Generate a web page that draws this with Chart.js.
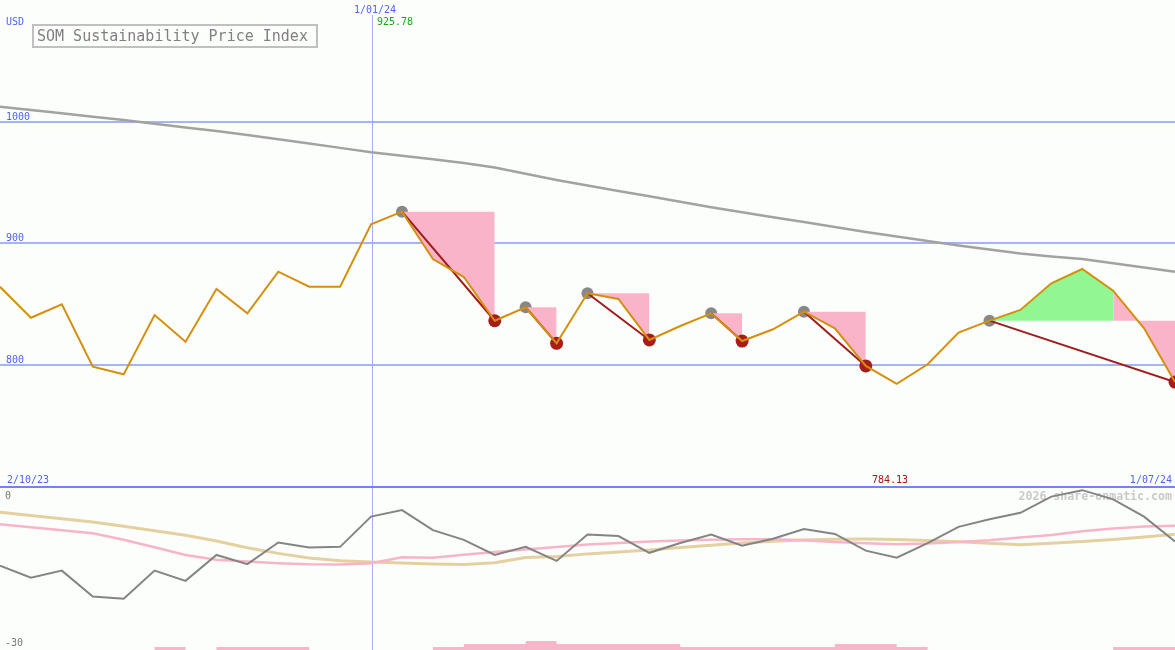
<!DOCTYPE html>
<html>
<head>
<meta charset="utf-8">
<script src="https://cdn.jsdelivr.net/npm/chart.js@4.4.1/dist/chart.umd.min.js"></script>
<style>
html,body{margin:0;padding:0;background:#fcfefc;}
#wrap{position:relative;width:1175px;height:650px;overflow:hidden;background:#fcfefc;}
#top{position:absolute;left:0;top:0;}
#bot{position:absolute;left:0;top:488px;}
#title{position:absolute;left:32px;top:24px;width:286px;height:24px;box-sizing:border-box;border:2px solid #c0c0c0;
  font:15px "DejaVu Sans Mono",monospace;color:#808080;line-height:20px;padding-left:3px;white-space:nowrap;}
</style>
</head>
<body>
<div id="wrap">
  <canvas id="top" width="1175" height="488"></canvas>
  <canvas id="bot" width="1175" height="162"></canvas>
  <div id="title">SOM Sustainability Price Index</div>
</div>
<script>
// ---------- data ----------
const categories = ['9/10/23','16/10/23','23/10/23','30/10/23','6/11/23','13/11/23','20/11/23','27/11/23',
  '4/12/23','11/12/23','18/12/23','25/12/23','1/01/24','8/01/24','15/01/24','22/01/24','29/01/24',
  '5/02/24','12/02/24','19/02/24','26/02/24','4/03/24','11/03/24','18/03/24','25/03/24',
  '1/04/24','8/04/24','15/04/24','22/04/24','29/04/24','6/05/24','13/05/24','20/05/24','27/05/24',
  '3/06/24','10/06/24','17/06/24','24/06/24','1/07/24'];

const price = [864.0, 838.5, 849.5, 798.2, 791.9, 840.7, 818.8, 862.1, 842.1, 876.4,
  864.0, 864.0, 915.4, 925.78, 886.8, 872.0, 836.0, 847.1, 817.4, 858.6,
  853.9, 820.2, 831.7, 842.1, 819.3, 829.0, 843.5, 829.8, 798.8, 784.13,
  800.2, 826.2, 836.1, 844.9, 866.8, 878.6, 860.8, 829.8, 785.5];

const trend = [1012.2, 1009.5, 1006.7, 1004.0, 1001.2, 998.2, 995.1, 992.1, 988.8, 985.3,
  981.8, 978.3, 974.7, 971.8, 968.9, 965.9, 962.1, 957.0, 951.9, 947.3,
  942.8, 938.4, 933.9, 929.4, 925.3, 921.2, 917.2, 913.1, 909.1, 905.3,
  901.6, 898.0, 894.7, 891.3, 888.8, 886.8, 883.4, 879.8, 876.4];

const peaks   = [13, 17, 19, 23, 26, 32];
const troughs = [16, 18, 21, 24, 28, 38];
const riseEnd = 36;

const gridTicks = [800, 900, 1000];

const oscGray = [-14.4, -16.6, -15.3, -20.1, -20.5, -15.3, -17.2, -12.4, -14.1, -10.1,
  -11.0, -10.9, -5.3, -4.1, -7.8, -9.6, -12.4, -10.9, -13.5, -8.6,
  -8.9, -12.0, -10.2, -8.6, -10.7, -9.4, -7.6, -8.5, -11.6, -12.9,
  -10.2, -7.2, -5.8, -4.6, -1.6, -0.4, -2.1, -5.3, -9.9];

const oscTan = [-4.50, -5.09, -5.69, -6.28, -7.07, -7.91, -8.74, -9.80, -11.06, -12.11,
  -12.98, -13.46, -13.70, -13.91, -14.06, -14.17, -13.85, -12.87, -12.69, -12.20,
  -11.85, -11.48, -11.04, -10.59, -10.19, -9.85, -9.61, -9.48, -9.46, -9.54,
  -9.74, -9.94, -10.22, -10.50, -10.22, -9.91, -9.54, -9.07, -8.57];

const oscPink = [-6.72, -7.28, -7.83, -8.39, -9.57, -10.96, -12.41, -13.28, -13.61, -13.93,
  -14.14, -14.18, -13.94, -12.81, -12.91, -12.35, -11.87, -11.39, -10.93, -10.48,
  -10.17, -9.89, -9.74, -9.59, -9.50, -9.48, -9.67, -9.98, -10.22, -10.41,
  -10.26, -10.02, -9.67, -9.17, -8.69, -8.02, -7.48, -7.15, -6.98];

const volLevels = [0, 0, 0, 0, 0, 1, 0, 1, 1, 1,
  0, 0, 0, 0, 1, 2, 2, 3, 2, 2,
  2, 2, 1, 1, 1, 1, 1, 2, 2, 1,
  0, 0, 0, 0, 0, 0, 1, 1, 1];

const markerDate = '1/01/24';
const currencyLabel = 'USD';
const markerValueText = '925.78';
const minValueText = '784.13';
const startDateText = '2/10/23';
const endDateText = '1/07/24';
const oscTopText = '0';
const oscBottomText = '-30';
const watermarkText = '2026 share-onmatic.com';

// ---------- helpers ----------
const MONO = '"DejaVu Sans Mono", monospace';
const pick = (cond) => categories.map((_, i) => cond(i) ? price[i] : null);
const markerIdx = categories.indexOf(markerDate);

// ---------- top chart ----------
const topDs = [];
topDs.push({ data: price, borderColor: '#d4900c', borderWidth: 2, pointRadius: 0, fill: false, order: 0 });
topDs.push({ data: pick(i => troughs.includes(i)), showLine: false, pointRadius: 6.5,
  pointBackgroundColor: '#a81c1c', pointBorderWidth: 0, order: 1 });
peaks.forEach((p, k) => {
  const t = troughs[k];
  topDs.push({ data: pick(i => i === p || i === t), spanGaps: true, borderColor: '#a01c1c',
    borderWidth: 2, pointRadius: 0, fill: false, order: 2 });
});
peaks.forEach((p, k) => {
  const t = troughs[k];
  if (k === peaks.length - 1) {
    topDs.push({ data: pick(i => i >= p && i <= riseEnd), borderColor: 'rgba(0,0,0,0)', borderWidth: 0,
      pointRadius: 0, fill: { value: price[p] }, backgroundColor: '#92f792', order: 3 });
    topDs.push({ data: pick(i => i >= riseEnd && i <= t), borderColor: 'rgba(0,0,0,0)', borderWidth: 0,
      pointRadius: 0, fill: { value: price[p] }, backgroundColor: '#fab4c9', order: 3 });
  } else {
    topDs.push({ data: pick(i => i >= p && i <= t), borderColor: 'rgba(0,0,0,0)', borderWidth: 0,
      pointRadius: 0, fill: { value: price[p] }, backgroundColor: '#fab4c9', order: 3 });
  }
});
topDs.push({ data: pick(i => peaks.includes(i)), showLine: false, pointRadius: 6,
  pointBackgroundColor: '#888888', pointBorderWidth: 0, order: 4 });
topDs.push({ data: trend, borderColor: '#a2a2a2', borderWidth: 2.5, pointRadius: 0, fill: false, order: 5 });

const topDeco = {
  id: 'topDeco',
  beforeDatasetsDraw(chart) {
    const { ctx, chartArea: a, scales: { x, y } } = chart;
    ctx.save();
    ctx.strokeStyle = '#a4b4f4';
    ctx.lineWidth = 2;
    gridTicks.forEach(v => {
      const py = Math.round(y.getPixelForValue(v));
      ctx.beginPath(); ctx.moveTo(a.left, py); ctx.lineTo(a.right, py); ctx.stroke();
    });
    const vx = Math.floor(x.getPixelForValue(markerIdx)) + 1.5;
    ctx.strokeStyle = '#a0b0f8';
    ctx.lineWidth = 1;
    ctx.beginPath(); ctx.moveTo(vx, 15); ctx.lineTo(vx, a.bottom); ctx.stroke();

    ctx.font = '10px ' + MONO;
    ctx.textBaseline = 'alphabetic';
    ctx.fillStyle = '#5262f0';
    ctx.textAlign = 'left';
    ctx.fillText(currencyLabel, 6, 25);
    gridTicks.forEach(v => ctx.fillText(String(v), 6, Math.round(y.getPixelForValue(v)) - 2));
    ctx.fillText(categories[markerIdx], 354, 13);
    ctx.fillText(startDateText, 7, 483);
    ctx.textAlign = 'right';
    ctx.fillText(endDateText, 1172, 483);
    ctx.textAlign = 'left';
    ctx.fillStyle = '#22a022';
    ctx.fillText(markerValueText, 377, 25);
    ctx.fillStyle = '#a01818';
    ctx.fillText(minValueText, 872, 483);
    ctx.restore();
  },
  afterDraw(chart) {
    const { ctx } = chart;
    ctx.save();
    ctx.fillStyle = '#7484ee';
    ctx.fillRect(0, 486, chart.width, 2);
    ctx.restore();
  }
};

new Chart(document.getElementById('top'), {
  type: 'line',
  data: { labels: categories, datasets: topDs },
  options: {
    responsive: false, animation: false, devicePixelRatio: 1, events: [],
    layout: { padding: 0, autoPadding: false },
    elements: { point: { radius: 0, hoverRadius: 0 }, line: { tension: 0 } },
    plugins: { legend: { display: false }, tooltip: { enabled: false } },
    scales: {
      x: { type: 'category', display: false, offset: false },
      y: { display: false, min: 1100 - 488 / 1.215, max: 1100 }
    }
  },
  plugins: [topDeco]
});

// ---------- bottom chart ----------
const botDeco = {
  id: 'botDeco',
  beforeDatasetsDraw(chart) {
    const { ctx, chartArea: a, scales: { x } } = chart;
    ctx.save();
    ctx.font = 'bold 11.6px ' + MONO;
    ctx.fillStyle = '#c9c9c9';
    ctx.textAlign = 'right';
    ctx.textBaseline = 'alphabetic';
    ctx.fillText(watermarkText, 1172, 12);
    const vx = Math.floor(x.getPixelForValue(markerIdx)) + 1.5;
    ctx.strokeStyle = '#a0b0f8';
    ctx.lineWidth = 1;
    ctx.beginPath(); ctx.moveTo(vx, a.top); ctx.lineTo(vx, a.bottom); ctx.stroke();
    ctx.font = '10px ' + MONO;
    ctx.fillStyle = '#777777';
    ctx.textAlign = 'left';
    ctx.fillText(oscTopText, 5, 11);
    ctx.fillText(oscBottomText, 5, 158);
    ctx.restore();
  }
};

new Chart(document.getElementById('bot'), {
  type: 'line',
  data: {
    labels: categories,
    datasets: [
      { data: oscGray, borderColor: '#848484', borderWidth: 2, pointRadius: 0, fill: false, yAxisID: 'y', order: 0 },
      { data: oscPink, borderColor: '#f8b4c8', borderWidth: 2.5, pointRadius: 0, fill: false, yAxisID: 'y', order: 1 },
      { data: oscTan, borderColor: '#e4d0a0', borderWidth: 3, pointRadius: 0, fill: false, yAxisID: 'y', order: 2 },
      { data: volLevels, stepped: 'before', borderColor: 'rgba(0,0,0,0)', borderWidth: 0, pointRadius: 0,
        fill: 'origin', backgroundColor: '#f9b6cb', yAxisID: 'yb', order: 3 }
    ]
  },
  options: {
    responsive: false, animation: false, devicePixelRatio: 1, events: [],
    layout: { padding: 0, autoPadding: false },
    elements: { point: { radius: 0, hoverRadius: 0 }, line: { tension: 0 } },
    plugins: { legend: { display: false }, tooltip: { enabled: false } },
    scales: {
      x: { type: 'category', display: false, offset: false },
      y: { display: false, min: -30, max: 0 },
      yb: { display: false, min: 0, max: 54 }
    }
  },
  plugins: [botDeco]
});
</script>
</body>
</html>
